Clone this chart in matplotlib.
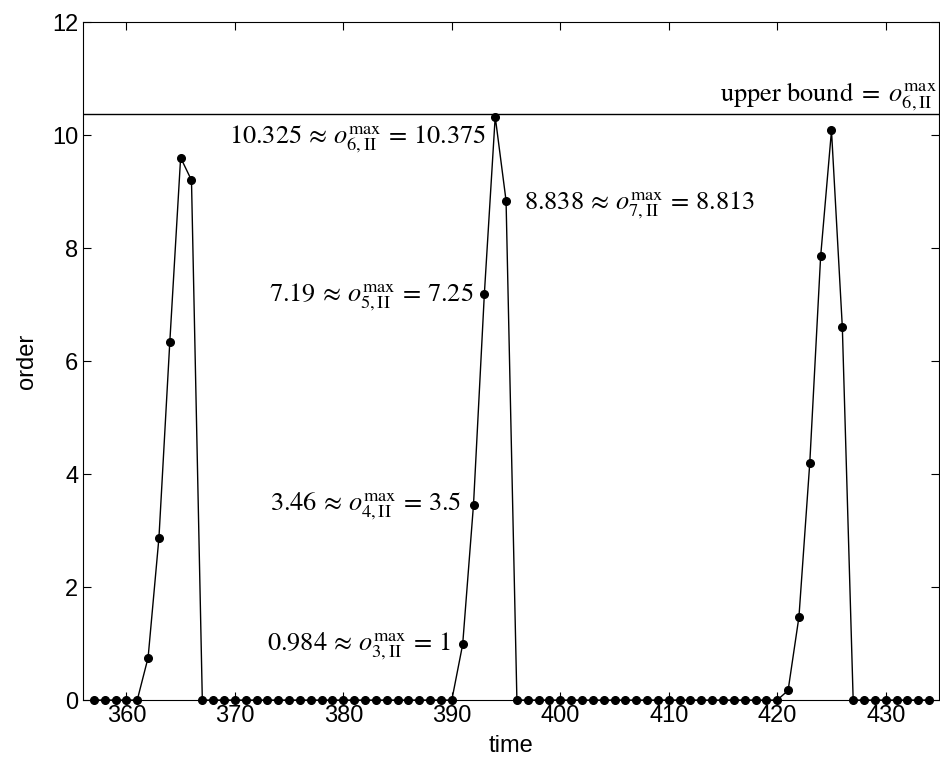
import numpy as np
import matplotlib.pyplot as plt

plt.rcParams['font.family'] = 'Liberation Sans'
plt.rcParams['mathtext.fontset'] = 'stix'

# dati
t = np.arange(357, 435)
picco1_t = [362, 363, 364, 365, 366]
picco1_o = [0.75, 2.87, 6.33, 9.6, 9.2]
picco2_t = [391, 392, 393, 394, 395]
picco2_o = [0.984, 3.46, 7.19, 10.325, 8.838]
picco3_t = [421, 422, 423, 424, 425, 426]
picco3_o = [0.17, 1.47, 4.2, 7.85, 10.08, 6.6]
upper = 10.375

order = np.zeros(len(t))
for tt, oo in zip(picco1_t + picco2_t + picco3_t, picco1_o + picco2_o + picco3_o):
    order[tt - t[0]] = oo

fig = plt.figure(figsize=(9.4, 7.67), dpi=100)
ax = fig.add_axes([0.0883, 0.0873, 0.9105, 0.884])

ax.plot(t, order, color='black', lw=1, marker='o', ms=5.5, clip_on=False)
ax.axhline(upper, color='black', lw=1)

ax.set_xlim(356, 434.9)
ax.set_ylim(0, 12)
ax.set_xticks(np.arange(360, 431, 10))
ax.set_yticks(np.arange(0, 13, 2))
ax.tick_params(direction='in', top=True, right=True, labelsize=17, length=6)
ax.set_xlabel('time', fontsize=17, labelpad=6)
ax.set_ylabel('order', fontsize=17, labelpad=10)

fs = 19
ax.text(393.15, 9.85, r'$10.325 \,\approx\, o^{\max}_{6,\mathrm{II}} \,=\, 10.375$', fontsize=fs, ha='right', va='baseline')
ax.text(396.65, 8.68, r'$8.838 \,\approx\, o^{\max}_{7,\mathrm{II}} \,=\, 8.813$', fontsize=fs, ha='left', va='baseline')
ax.text(392.0, 7.05, r'$7.19 \,\approx\, o^{\max}_{5,\mathrm{II}} \,=\, 7.25$', fontsize=fs, ha='right', va='baseline')
ax.text(390.9, 3.35, r'$3.46 \,\approx\, o^{\max}_{4,\mathrm{II}} \,=\, 3.5$', fontsize=fs, ha='right', va='baseline')
ax.text(389.9, 0.88, r'$0.984 \,\approx\, o^{\max}_{3,\mathrm{II}} \,=\, 1$', fontsize=fs, ha='right', va='baseline')
ax.text(434.7, 10.6, r'$\mathrm{upper\ bound} \;=\; o^{\max}_{6,\mathrm{II}}$', fontsize=fs, ha='right', va='baseline')

plt.savefig('out.png', dpi=100)
